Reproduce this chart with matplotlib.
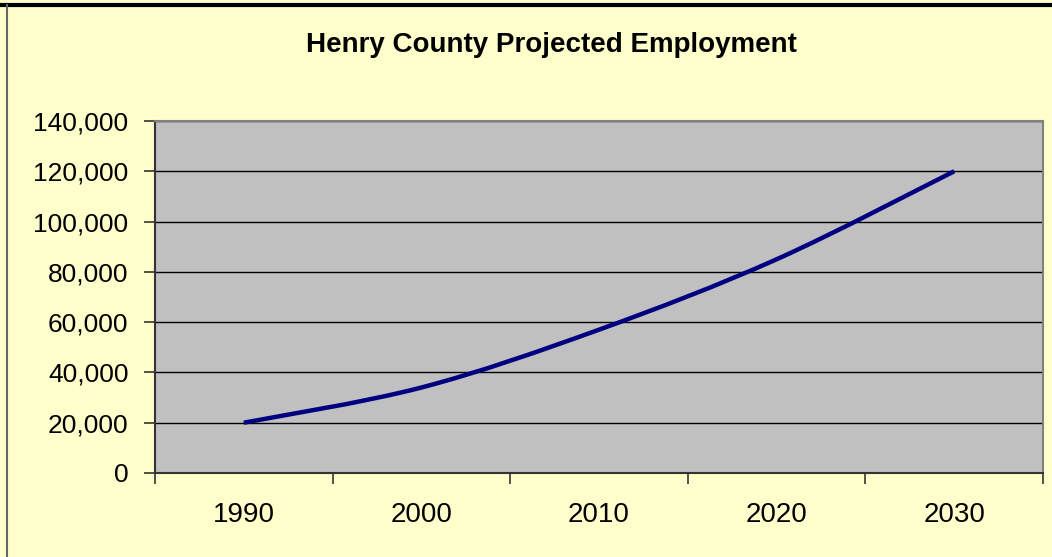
import matplotlib
matplotlib.use('Agg')
import matplotlib.pyplot as plt
from matplotlib.path import Path
from matplotlib.patches import PathPatch
from matplotlib.lines import Line2D
from matplotlib.ticker import FuncFormatter, FixedLocator

years = ['1990', '2000', '2010', '2020', '2030']
employment = [20000, 34000, 57000, 85000, 120000]
y_ticks = [0, 20000, 40000, 60000, 80000, 100000, 120000, 140000]

plt.rcParams['font.family'] = ['Liberation Sans', 'DejaVu Sans']

fig = plt.figure(figsize=(10.52, 5.57), dpi=100)
fig.patch.set_facecolor('#FFFFCC')
ax = fig.add_axes([155 / 1052, 1 - 473 / 557, (1043 - 155) / 1052, (473 - 121) / 557])
ax.set_facecolor('#C0C0C0')

# smoothed line like Excel (bezier through the points)
xs = list(range(len(employment)))
verts = [(xs[0], employment[0])]
codes = [Path.MOVETO]
t = 1 / 6
for i in range(len(xs) - 1):
    p0 = (xs[max(i - 1, 0)], employment[max(i - 1, 0)])
    p1 = (xs[i], employment[i])
    p2 = (xs[i + 1], employment[i + 1])
    p3 = (xs[min(i + 2, len(xs) - 1)], employment[min(i + 2, len(xs) - 1)])
    c1 = (p1[0] + (p2[0] - p0[0]) * t, p1[1] + (p2[1] - p0[1]) * t)
    c2 = (p2[0] - (p3[0] - p1[0]) * t, p2[1] - (p3[1] - p1[1]) * t)
    verts += [c1, c2, p2]
    codes += [Path.CURVE4] * 3
ax.add_patch(PathPatch(Path(verts, codes), facecolor='none', edgecolor='#000080',
                       lw=3.2, capstyle='butt', zorder=3))

ax.set_xlim(-0.5, len(years) - 0.5)
ax.set_ylim(0, 140000)
ax.xaxis.set_major_locator(FixedLocator([i - 0.5 for i in range(len(years) + 1)]))
ax.xaxis.set_minor_locator(FixedLocator(xs))
ax.set_xticklabels([])
ax.set_xticklabels(years, minor=True)
ax.tick_params(axis='x', which='major', length=8, width=1.2, color='#333333', direction='out')
ax.tick_params(axis='x', which='minor', length=0, pad=21, labelsize=20)
ax.set_yticks(y_ticks)
ax.yaxis.set_major_formatter(FuncFormatter(lambda v, p: f'{int(v):,}'))
ax.tick_params(axis='y', length=8, width=1.2, color='#333333', pad=11, labelsize=19)

ax.grid(axis='y', color='black', lw=1)
ax.set_axisbelow(True)
for s in ['top', 'right']:
    ax.spines[s].set_color('#808080')
    ax.spines[s].set_linewidth(1.5)
for s in ['left', 'bottom']:
    ax.spines[s].set_color('#333333')
    ax.spines[s].set_linewidth(1.5)

fig.text(551 / 1052, 1 - 45 / 557, 'Henry County Projected Employment', ha='center', va='center',
         fontsize=20, fontweight='bold')

# chart frame
fig.add_artist(Line2D([0, 1], [1 - 5 / 557, 1 - 5 / 557], color='black', lw=3))
fig.add_artist(Line2D([7 / 1052, 7 / 1052], [0, 1 - 5 / 557], color='#666666', lw=1.5))

fig.savefig('out.png', dpi=100, facecolor=fig.get_facecolor())
